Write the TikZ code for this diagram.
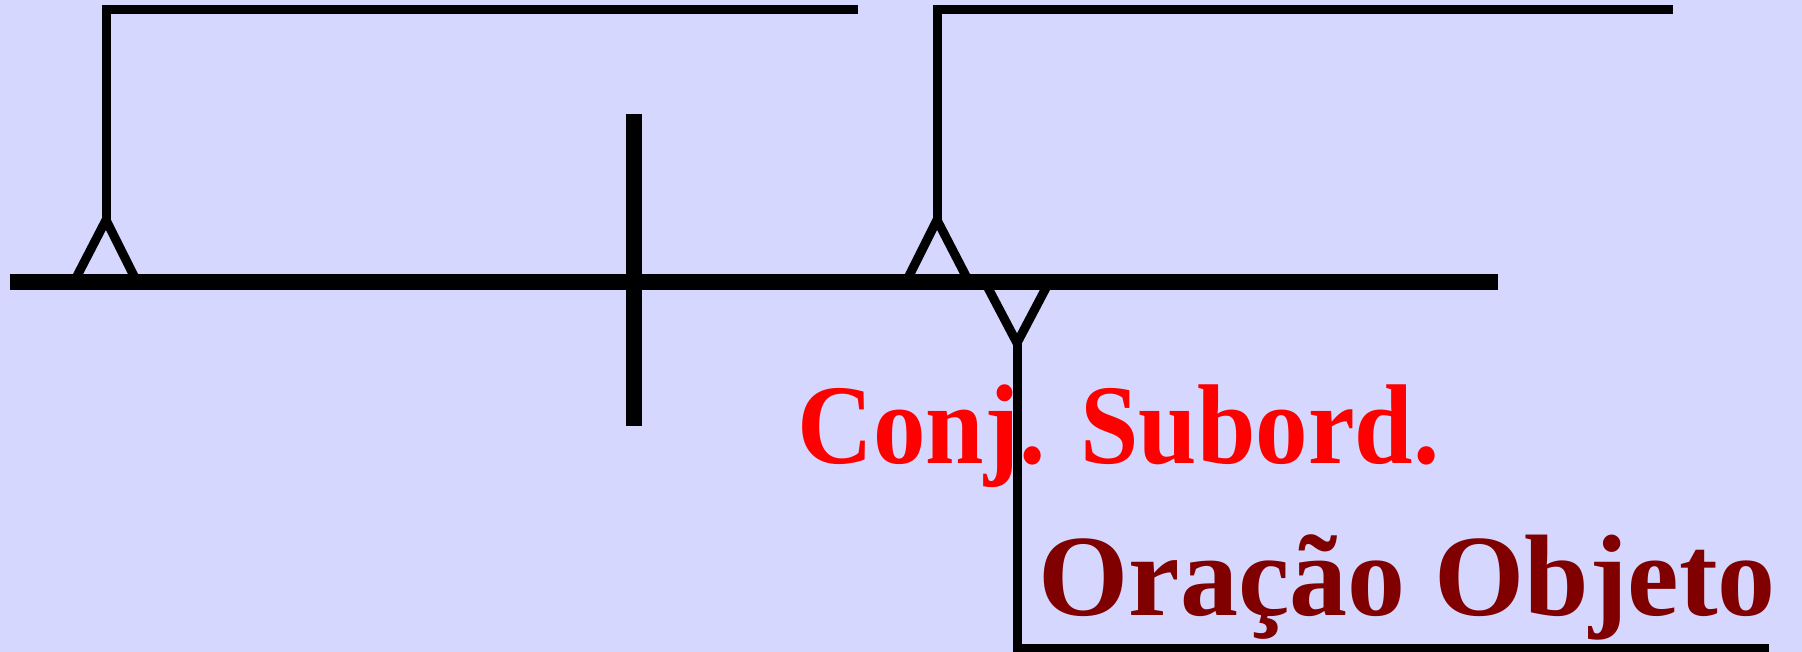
\documentclass[tikz,border=0pt]{standalone}
\usepackage{fontspec}
\setmainfont{Liberation Serif}
\definecolor{bglilac}{RGB}{214,215,255}
\definecolor{clausered}{RGB}{128,0,0}

\begin{document}
\begin{tikzpicture}[x=0.02cm,y=-0.02cm]

\tikzstyle{mainline} = [line width=0.32cm]
\tikzstyle{stemline} = [line width=0.18cm, line join=miter]
\tikzstyle{conjtext} = [anchor=base west, inner sep=0pt, text=red,
font=\fontsize{59.8}{66}\selectfont\bfseries]
\tikzstyle{clausetext} = [anchor=base west, inner sep=0pt, text=clausered,
font=\fontsize{66}{72}\selectfont\bfseries]

\fill[bglilac] (0,0) rectangle (1802,652);
\useasboundingbox (0,0) rectangle (1802,652);

% main line and divider
\coordinate (mainL) at (10,282);
\coordinate (mainR) at (1498,282);
\coordinate (divT) at (634,114);
\coordinate (divB) at (634,426);
\draw[mainline] (mainL) -- (mainR);
\draw[mainline] (divT) -- (divB);

% left pedestal
\coordinate (p1) at (106,220);
\coordinate (p1l) at (76,278);
\coordinate (p1r) at (135,278);
\coordinate (p1t) at (106,10);
\coordinate (p1e) at (858,10);
\draw[stemline] (p1l) -- (p1) -- (p1r);
\draw[stemline] (p1) -- (p1t) -- (p1e);

% right pedestal
\coordinate (p2) at (937,220);
\coordinate (p2l) at (908,278);
\coordinate (p2r) at (967,278);
\coordinate (p2t) at (937,10);
\coordinate (p2e) at (1673,10);
\draw[stemline] (p2l) -- (p2) -- (p2r);
\draw[stemline] (p2) -- (p2t) -- (p2e);

% object clause fork
\coordinate (v) at (1017,343);
\coordinate (vl) at (987,286);
\coordinate (vr) at (1047,286);
\coordinate (vb) at (1017,648);
\coordinate (ve) at (1769,648);
\draw[stemline] (vl) -- (v) -- (vr);
\draw[stemline] (v) -- (vb) -- (ve);

\node[conjtext] (conj) at (797,463) {\scalebox{1}[1.08]{Conj. Subord.}};
\node[clausetext] (clause) at (1038,615) {Oração Objeto};

\end{tikzpicture}
\end{document}
